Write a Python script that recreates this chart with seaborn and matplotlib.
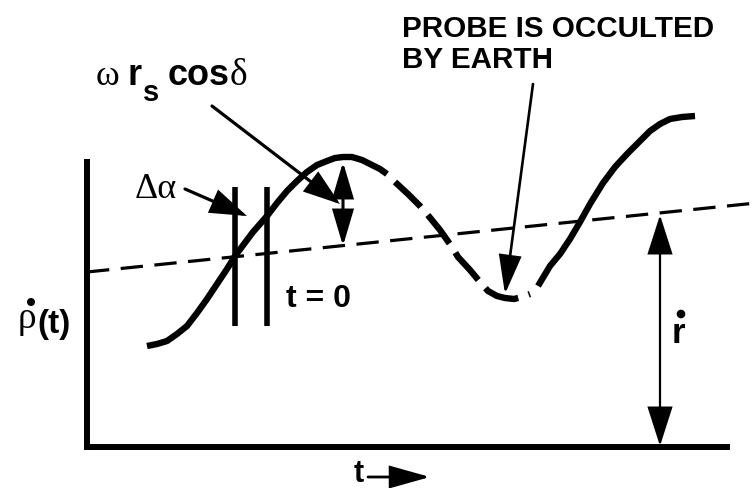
import matplotlib
matplotlib.use("Agg")
import matplotlib.pyplot as plt
from matplotlib.patches import FancyArrowPatch, Circle
import seaborn as sns
import pandas as pd

# Range-rate signature of the probe, sketched in screen units (y grows downward)
rise_x = [147, 157, 167, 177, 187, 197, 207, 217, 227, 235, 244, 253, 260, 267,
          277, 287, 297, 307, 317, 327, 335, 343, 352, 362, 372, 380, 387]
rise_y = [347, 345, 342, 335, 327, 314, 300, 285, 270, 257, 245, 233, 225, 217,
          204, 192, 182, 173, 166, 162, 159, 158, 158, 161, 166, 170, 175]

# Portion of the signal lost while the probe is behind the Earth
occult_x = [395, 408, 420, 427, 440, 452, 458, 470, 480, 488, 497, 505, 514, 522, 530]
occult_y = [183, 195, 207, 215, 231, 248, 258, 271, 283, 292, 297, 299, 300, 298, 295]

# Reacquisition after occultation
reacq_x = [538, 550, 560, 570, 580, 590, 603, 615, 627, 640, 650, 660, 670, 682, 695]
reacq_y = [287, 267, 255, 240, 223, 205, 184, 168, 155, 142, 132, 125, 120, 118, 117]

# Mean range rate (r-dot) trend line
trend_x = [87, 756]
trend_y = [273, 204]

# Epoch markers bracketing the Delta-alpha offset
epoch_x = [235, 267]
epoch_top, epoch_bottom = 188, 327

sns.set_theme(style="white")
plt.rcParams["font.family"] = ["Liberation Sans", "DejaVu Sans"]

W, H = 756, 489
fig = plt.figure(figsize=(W / 100, H / 100), dpi=100)
ax = fig.add_axes([0, 0, 1, 1])
ax.set_xlim(0, W)
ax.set_ylim(H, 0)
ax.axis("off")

ink = "black"

# Frame: ordinate and abscissa
ax.plot([87, 87], [160, 451], color=ink, lw=4.3, solid_capstyle="butt")
ax.plot([84, 730], [448, 448], color=ink, lw=4.3, solid_capstyle="butt")

# Trend line
sns.lineplot(x=trend_x, y=trend_y, ax=ax, color=ink, lw=2.3,
             linestyle=(0, (7.0, 3.6)), sort=False, estimator=None)

# Signal curve
sns.lineplot(data=pd.DataFrame({"t": rise_x, "rho": rise_y}), x="t", y="rho",
             ax=ax, color=ink, lw=4.6, sort=False, estimator=None,
             solid_capstyle="butt")
sns.lineplot(data=pd.DataFrame({"t": occult_x, "rho": occult_y}), x="t", y="rho",
             ax=ax, color=ink, lw=4.6, sort=False, estimator=None,
             linestyle=(0, (5.6, 1.7)), dash_capstyle="butt")
sns.lineplot(data=pd.DataFrame({"t": reacq_x, "rho": reacq_y}), x="t", y="rho",
             ax=ax, color=ink, lw=4.6, sort=False, estimator=None,
             solid_capstyle="butt")

# Epoch markers
for ex in epoch_x:
    ax.plot([ex, ex], [epoch_top, epoch_bottom], color=ink, lw=4.0,
            solid_capstyle="butt")


def arrow(p0, p1, style, hl, hw, lw):
    ax.add_patch(FancyArrowPatch(
        p0, p1, arrowstyle=f"{style},head_length={hl},head_width={hw}",
        mutation_scale=1, lw=lw, color=ink, shrinkA=0, shrinkB=0,
        joinstyle="miter"))


# Amplitude of the diurnal term
arrow((343, 163), (343, 247), "<|-|>", 22, 6.5, 2.2)
# Mean range rate
arrow((660, 216), (660, 447), "<|-|>", 25, 8, 1.6)
# Leaders
arrow((212, 107), (340, 205), "-|>", 22, 7.5, 2.3)
arrow((185, 190), (247, 217), "-|>", 22, 7.5, 2.3)
arrow((533, 85), (505, 295), "-|>", 24, 7, 1.9)
arrow((368, 478), (430, 478), "-|>", 25, 7, 2.0)

serif = ["Liberation Serif", "DejaVu Serif"]
bold = dict(fontweight="bold", color=ink)

# omega r_s cos delta
ax.text(96, 85, "ω", fontsize=26, family=serif, color=ink, va="baseline")
ax.text(128, 85, "r", fontsize=26, va="baseline", **bold)
ax.text(143, 101, "s", fontsize=21, va="baseline", **bold)
ax.text(168, 85, "cos", fontsize=26, va="baseline", **bold)
ax.text(230, 85, "δ", fontsize=27, family=serif, color=ink, va="baseline")

# Delta alpha
ax.text(135, 198, "Δα", fontsize=26, family=serif, color=ink, va="baseline")

# t = 0
ax.text(286, 307, "t = 0", fontsize=23, va="baseline", **bold)

# rho-dot(t)
ax.text(18, 328, "ρ", fontsize=27, family=serif, color=ink, va="baseline")
ax.add_patch(Circle((31, 303), 3.3, color=ink))
ax.text(37, 333, "(t)", fontsize=24, va="baseline", **bold)

# r-dot
ax.text(672, 343, "r", fontsize=25, va="baseline", **bold)
ax.add_patch(Circle((681, 315), 3.6, color=ink))

# Occultation note
ax.text(402, 37, "PROBE IS OCCULTED", fontsize=21.3, va="baseline", **bold)
ax.text(402, 68, "BY EARTH", fontsize=21.3, va="baseline", **bold)

# Time axis label
ax.text(354, 489, "t", fontsize=22, va="bottom", **bold)

fig.savefig("out.png", dpi=100, facecolor="white")
